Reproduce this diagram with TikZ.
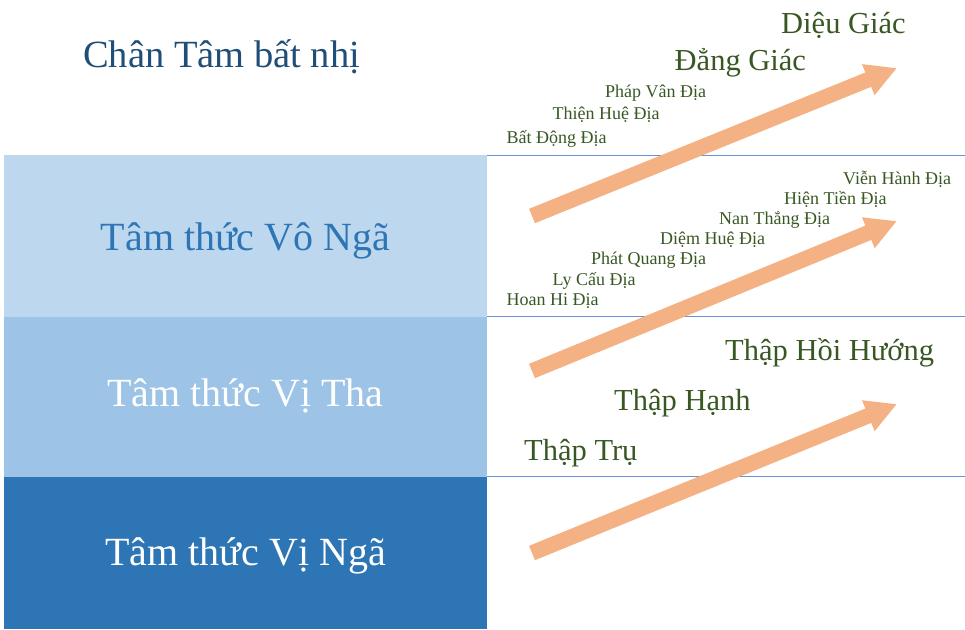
\documentclass[tikz,border=0pt]{standalone}
\usepackage{fontspec}
\setmainfont{Liberation Serif}
\usetikzlibrary{arrows.meta}

\definecolor{boxlight}{HTML}{BDD7EE}
\definecolor{boxmid}{HTML}{9DC3E6}
\definecolor{boxdark}{HTML}{2E75B6}
\definecolor{titleblue}{HTML}{1F4E79}
\definecolor{levelgreen}{HTML}{385723}
\definecolor{rulerblue}{HTML}{6A8FD2}
\definecolor{arroworange}{HTML}{F4B183}

\tikzset{
  band/.style={draw=none, inner sep=0pt, outer sep=0pt},
  bandtext/.style={inner sep=0pt, anchor=base, font=\fontsize{40}{44}\selectfont},
  divider/.style={draw=rulerblue, line width=1pt},
  stagebig/.style={inner sep=0pt, anchor=base west, text=levelgreen,
                   font=\fontsize{30.5}{34}\selectfont},
  stagesmall/.style={inner sep=0pt, anchor=base west, text=levelgreen,
                     font=\fontsize{18}{20}\selectfont},
  risearrow/.style={draw=arroworange, line width=15.5pt, line cap=butt,
                    -{Triangle[length=31pt, width=31pt, fill=arroworange]}},
}

\begin{document}
\begin{tikzpicture}[x=1pt, y=-1pt]
  \useasboundingbox (0,0) rectangle (965,629);

  % three levels of consciousness
  \fill[boxlight] (4,155) rectangle (487,316.5);
  \fill[boxmid]   (4,316.5) rectangle (487,476.5);
  \fill[boxdark]  (4,476.5) rectangle (487,629);

  \node[bandtext, text=boxdark] (vongai) at (245.5,250.5) {Tâm thức Vô Ngã};
  \node[bandtext, text=white]   (vitha)  at (245.5,406.5) {Tâm thức Vị Tha};
  \node[bandtext, text=white]   (vingai) at (245.5,565)   {Tâm thức Vị Ngã};

  % level dividers on the right
  \coordinate (d1a) at (487,155);   \coordinate (d1b) at (965,155);
  \coordinate (d2a) at (487,316);   \coordinate (d2b) at (965,316);
  \coordinate (d3a) at (487,476);   \coordinate (d3b) at (965,476);
  \draw[divider] (d1a) -- (d1b);
  \draw[divider] (d2a) -- (d2b);
  \draw[divider] (d3a) -- (d3b);

  % title
  \node[inner sep=0pt, anchor=base west, text=titleblue,
        font=\fontsize{38.5}{42}\selectfont] (title) at (83,67) {Chân Tâm bất nhị};

  % rising arrows
  \coordinate (a1s) at (532,216);  \coordinate (a1e) at (897,68);
  \coordinate (a2s) at (532,371);  \coordinate (a2e) at (897,221);
  \coordinate (a3s) at (532,553);  \coordinate (a3e) at (897,404);
  \draw[risearrow] (a1s) -- (a1e);
  \draw[risearrow] (a2s) -- (a2e);
  \draw[risearrow] (a3s) -- (a3e);

  % top stages
  \node[stagebig] (dieugiac) at (781,33)   {Diệu Giác};
  \node[stagebig] (danggiac) at (674.5,70.5) {Đẳng Giác};
  \node[stagesmall] (phapvan)  at (605,97)    {Pháp Vân Địa};
  \node[stagesmall] (thienhue) at (552.5,119.5) {Thiện Huệ Địa};
  \node[stagesmall] (batdong)  at (506.5,143.5) {Bất Động Địa};

  % middle stages
  \node[stagesmall] (vienhanh)  at (843,184)   {Viễn Hành Địa};
  \node[stagesmall] (hientien)  at (784,204)   {Hiện Tiền Địa};
  \node[stagesmall] (nanthang)  at (719,224)   {Nan Thắng Địa};
  \node[stagesmall] (diemhue)   at (660,244)   {Diệm Huệ Địa};
  \node[stagesmall] (phatquang) at (591,264)   {Phát Quang Địa};
  \node[stagesmall] (lycau)     at (552.5,285) {Ly Cấu Địa};
  \node[stagesmall] (hoanhi)    at (506.5,305) {Hoan Hi Địa};

  % lower stages
  \node[stagebig] (hoihuong) at (725,360) {Thập Hồi Hướng};
  \node[stagebig] (thaphanh) at (614,410) {Thập Hạnh};
  \node[stagebig] (taptru)   at (524,460) {Thập Trụ};
\end{tikzpicture}
\end{document}
